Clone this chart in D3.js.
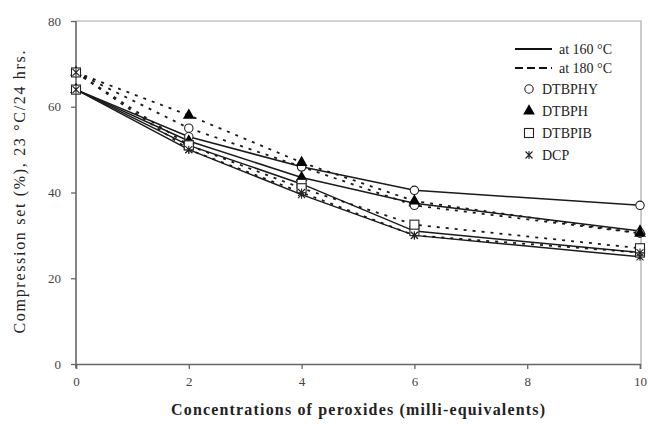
<!DOCTYPE html>
<html>
<head>
<meta charset="utf-8">
<script src="https://cdn.jsdelivr.net/npm/d3@7"></script>
<style>
  body { margin: 0; background: #fff; }
</style>
</head>
<body>
<div id="figure"></div>
<script>
// peroxide concentrations (milli-equivalents)
const conc = [0, 2, 4, 6, 10];
const peroxides = ["DTBPHY", "DTBPH", "DTBPIB", "DCP"];
const markerKind = ["circle", "triangle", "square", "star"];

// compression set (%) cured at 160 C (solid lines)
const at160_DTBPHY = [64, 53, 46, 40.5, 37];
const at160_DTBPH = [64, 52, 43.5, 37.5, 31];
const at160_DTBPIB = [64, 51, 42, 31, 26];
const at160_DCP = [64, 50, 39.5, 30, 25];

// compression set (%) cured at 180 C (dashed lines)
const at180_DTBPHY = [68, 55, 46, 37, 30.5];
const at180_DTBPH = [68, 58, 47, 38, 30.5];
const at180_DTBPIB = [68, 51, 41, 32.5, 27];
const at180_DCP = [68, 50, 40, 30, 26];

const xTicks = [0, 2, 4, 6, 8, 10];
const yTicks = [0, 20, 40, 60, 80];

const series = [
  {name: "DTBPHY", temp: 160, values: at160_DTBPHY},
  {name: "DTBPH", temp: 160, values: at160_DTBPH},
  {name: "DTBPIB", temp: 160, values: at160_DTBPIB},
  {name: "DCP", temp: 160, values: at160_DCP},
  {name: "DTBPHY", temp: 180, values: at180_DTBPHY},
  {name: "DTBPH", temp: 180, values: at180_DTBPH},
  {name: "DTBPIB", temp: 180, values: at180_DTBPIB},
  {name: "DCP", temp: 180, values: at180_DCP}
];

const serifFont = "'Liberation Serif', 'Times New Roman', Tinos, 'DejaVu Serif', serif";
const W = 648, H = 424;
const plotL = 76, plotR = 641, plotT = 21, plotB = 364;

const svg = d3.select("#figure").append("svg")
  .attr("width", W).attr("height", H)
  .attr("font-family", serifFont);

const x = d3.scaleLinear().domain([0, 10]).range([plotL, plotR - 1]);
const y = d3.scaleLinear().domain([0, 80]).range([plotB, plotT]);

// plot frame (top and right)
svg.append("path")
  .attr("d", `M${plotL},${plotT}H${plotR}V${plotB}`)
  .attr("fill", "none").attr("stroke", "#a8a8a8").attr("stroke-width", 1.2);

// axes
const xAxis = svg.append("g")
  .attr("transform", `translate(0,${plotB})`)
  .call(d3.axisBottom(x).tickValues(xTicks).tickSize(5).tickPadding(8));
const yAxis = svg.append("g")
  .attr("transform", `translate(${plotL},0)`)
  .call(d3.axisLeft(y).tickValues(yTicks).tickSize(5).tickPadding(10));

[xAxis, yAxis].forEach(g => {
  g.attr("font-family", serifFont).attr("font-size", 13);
  g.select(".domain").attr("stroke", "#666").attr("stroke-width", 1.6);
  g.selectAll(".tick line").attr("stroke", "#666").attr("stroke-width", 1.3);
  g.selectAll(".tick text").attr("fill", "#444");
});
yAxis.select(".domain").attr("d", `M0,${plotT}V${plotB + 4}`);

// lines
const line = d3.line()
  .x((d, i) => x(conc[i]))
  .y(d => y(d));

svg.selectAll(".series")
  .data(series)
  .join("path")
  .attr("class", "series")
  .attr("d", d => line(d.values))
  .attr("fill", "none")
  .attr("stroke", "#1a1a1a")
  .attr("stroke-width", d => d.temp === 160 ? 1.5 : 1.8)
  .attr("stroke-dasharray", d => d.temp === 160 ? null : "3,6");

// markers
function drawMarker(g, kind, cx, cy) {
  if (kind === "circle") {
    g.append("circle").attr("cx", cx).attr("cy", cy).attr("r", 4.2)
      .attr("fill", "#fff").attr("stroke", "#222").attr("stroke-width", 1.1);
  } else if (kind === "triangle") {
    g.append("path").attr("d", d3.symbol(d3.symbolTriangle, 60)())
      .attr("transform", `translate(${cx},${cy})`)
      .attr("fill", "#000");
  } else if (kind === "square") {
    g.append("rect").attr("x", cx - 4.5).attr("y", cy - 4.5)
      .attr("width", 9).attr("height", 9)
      .attr("fill", "#fff").attr("stroke", "#222").attr("stroke-width", 1.1);
  } else {
    g.append("path")
      .attr("d", `M${cx - 3.5},${cy - 3.5}L${cx + 3.5},${cy + 3.5}M${cx - 3.5},${cy + 3.5}L${cx + 3.5},${cy - 3.5}M${cx},${cy - 4}V${cy + 4}`)
      .attr("stroke", "#222").attr("stroke-width", 1.1);
  }
}

const markG = svg.append("g");
series.forEach(s => {
  const kind = markerKind[peroxides.indexOf(s.name)];
  s.values.forEach((v, i) => drawMarker(markG, kind, x(conc[i]), y(v)));
});

// legend
const leg = svg.append("g").attr("font-size", 14);
[{label: "at 160 \u00B0C", dash: null, yy: 49}, {label: "at 180 \u00B0C", dash: "8,4", yy: 68}]
  .forEach(d => {
    leg.append("line").attr("x1", 515).attr("x2", 552).attr("y1", d.yy).attr("y2", d.yy)
      .attr("stroke", "#111").attr("stroke-width", 1.8).attr("stroke-dasharray", d.dash);
    leg.append("text").attr("x", 559).attr("y", d.yy + 4.5).text(d.label).attr("fill", "#222");
  });
peroxides.forEach((p, i) => {
  const yy = 89 + i * 22;
  drawMarker(leg, markerKind[i], 529, yy);
  leg.append("text").attr("x", 542).attr("y", yy + 5).text(p).attr("fill", "#222");
});

// axis titles
svg.append("text")
  .attr("x", 358).attr("y", 415)
  .attr("text-anchor", "middle")
  .attr("font-size", 16).attr("font-weight", "bold")
  .attr("textLength", 374).attr("lengthAdjust", "spacing")
  .attr("fill", "#222")
  .text("Concentrations of peroxides (milli-equivalents)");

svg.append("text")
  .attr("transform", `translate(25,192) rotate(-90)`)
  .attr("text-anchor", "middle")
  .attr("font-size", 16)
  .attr("textLength", 283).attr("lengthAdjust", "spacing")
  .attr("fill", "#222")
  .text("Compression set (%), 23  \u00B0C/24 hrs.");
</script>
</body>
</html>
